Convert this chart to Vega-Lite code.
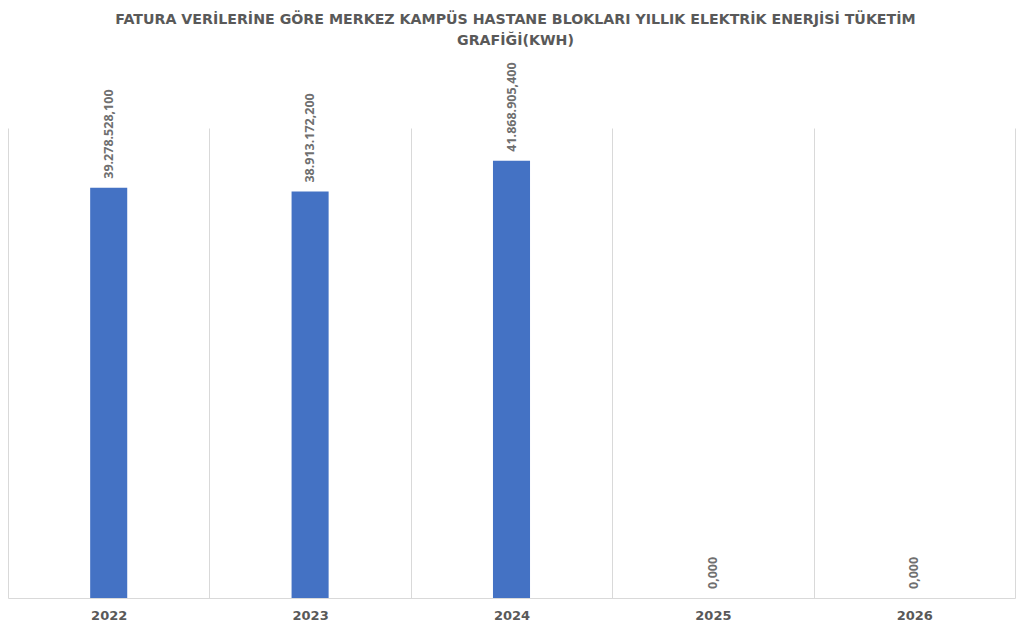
{
  "$schema": "https://vega.github.io/schema/vega-lite/v6.json",
  "autosize": {"type": "none"},
  "width": 1007,
  "height": 470,
  "padding": {"left": 8, "top": 128, "right": 16, "bottom": 35},
  "background": "white",
  "config": {
    "locale": {"number": {"decimal": ",", "thousands": ".", "grouping": [3], "currency": ["₺", ""]}},
    "view": {"stroke": null}
  },
  "title": {
    "text": ["FATURA VERİLERİNE GÖRE MERKEZ KAMPÜS HASTANE BLOKLARI YILLIK ELEKTRİK ENERJİSİ TÜKETİM", "GRAFİĞİ(KWH)"],
    "font": "DejaVu Sans",
    "fontSize": 14.2,
    "fontWeight": "bold",
    "color": "#595959",
    "lineHeight": 21,
    "offset": 14,
    "anchor": "middle",
    "dx": 4
  },
  "data": {
    "values": [
      {"year": "2022", "kwh": 39278528.1},
      {"year": "2023", "kwh": 38913172.2},
      {"year": "2024", "kwh": 41868905.4},
      {"year": "2025", "kwh": 0},
      {"year": "2026", "kwh": 0}
    ]
  },
  "encoding": {
    "x": {
      "field": "year",
      "type": "nominal",
      "sort": null,
      "scale": {"paddingInner": 0, "paddingOuter": 0},
      "axis": {
        "title": null,
        "labelAngle": 0,
        "tickBand": "extent",
        "grid": true,
        "gridColor": "#d9d9d9",
        "gridWidth": 1,
        "domainColor": "#d9d9d9",
        "ticks": false,
        "labelFont": "DejaVu Sans",
        "labelFontSize": 13,
        "labelFontWeight": "bold",
        "labelColor": "#595959",
        "labelPadding": 11
      }
    },
    "y": {
      "field": "kwh",
      "type": "quantitative",
      "scale": {"domain": [0, 45000000], "nice": false},
      "axis": null
    }
  },
  "layer": [
    {
      "mark": {"type": "bar", "color": "#4472C4", "width": {"band": 0.184}}
    },
    {
      "mark": {
        "type": "text",
        "angle": 270,
        "align": "left",
        "baseline": "middle",
        "dx": 9,
        "font": "Open Sans",
        "fontSize": 12.5,
        "fontWeight": "bold",
        "color": "#6f6f6f"
      },
      "encoding": {
        "text": {"field": "kwh", "type": "quantitative", "format": ",.3f"}
      }
    }
  ]
}
